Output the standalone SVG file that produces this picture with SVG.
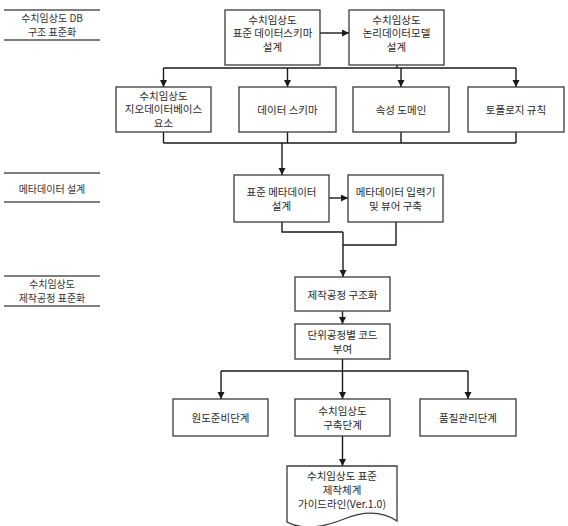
<svg xmlns="http://www.w3.org/2000/svg" width="568" height="526" viewBox="0 0 568 526">
<style>
.bg{fill:#ffffff}
.box{fill:#ffffff;stroke:#3a3a3a;stroke-width:1.3}
.t{font-family:"Noto Sans CJK KR","Noto Sans",sans-serif;font-size:10.5px;fill:#2a2a2a;text-anchor:middle;dominant-baseline:central}
.lt{font-family:"Noto Sans CJK KR","Noto Sans",sans-serif;font-size:10px;fill:#333;text-anchor:middle;dominant-baseline:central}
.rule{stroke:#555;stroke-width:1.6}
.c{fill:none;stroke:#1a1a1a;stroke-width:1.4}
.a{marker-end:url(#ah)}
</style>
<defs>
<marker id="ah" markerUnits="userSpaceOnUse" markerWidth="8" markerHeight="8" refX="7" refY="3.5" orient="auto">
<path d="M0,0 L7,3.5 L0,7 z" fill="#1a1a1a"/>
</marker>
</defs>
<rect class="bg" x="0" y="0" width="568" height="526"/>

<g id="label-db">
<line class="rule" x1="4" y1="10" x2="100" y2="10"/>
<line class="rule" x1="4" y1="40" x2="100" y2="40"/>
<text class="lt" x="52" y="17.5">수치임상도 DB</text>
<text class="lt" x="52" y="31">구조 표준화</text>
</g>
<g id="label-meta">
<line class="rule" x1="4" y1="173" x2="100" y2="173"/>
<line class="rule" x1="4" y1="202" x2="100" y2="202"/>
<text class="lt" x="52" y="188">메타데이터 설계</text>
</g>
<g id="label-proc">
<line class="rule" x1="4" y1="276" x2="100" y2="276"/>
<line class="rule" x1="4" y1="306" x2="100" y2="306"/>
<text class="lt" x="52" y="283.5">수치임상도</text>
<text class="lt" x="52" y="297">제작공정 표준화</text>
</g>

<g id="connectors">
<path class="c a" d="M320,33 H349"/>
<path class="c" d="M397,65 V68 M163.5,68 H516"/>
<path class="c a" d="M163.5,68 V87"/>
<path class="c a" d="M287.5,68 V87"/>
<path class="c a" d="M401,68 V87"/>
<path class="c a" d="M516,68 V87"/>
<path class="c" d="M163.5,132 V143 M287.5,132 V143 M401,132 V143 M516,132 V143 M163.5,143 H516"/>
<path class="c a" d="M282,143 V175"/>
<path class="c a" d="M329,198 H348"/>
<path class="c" d="M282,222 V232 H343 M396,222 V245 H343"/>
<path class="c a" d="M343,232 V277"/>
<path class="c a" d="M342.5,311 V324"/>
<path class="c" d="M342.5,359 V371 M221,371 H468"/>
<path class="c a" d="M221,371 V399"/>
<path class="c a" d="M342.5,371 V399"/>
<path class="c a" d="M468,371 V399"/>
<path class="c a" d="M342.5,436 V466"/>
</g>

<g id="n-schema">
<rect class="box" x="225" y="10" width="95" height="55"/>
<text class="t" x="272.5" y="19">수치임상도</text>
<text class="t" x="272.5" y="32.5">표준 데이터스키마</text>
<text class="t" x="272.5" y="46">설계</text>
</g>
<g id="n-logic">
<rect class="box" x="349" y="10" width="95" height="55"/>
<text class="t" x="396.5" y="19">수치임상도</text>
<text class="t" x="396.5" y="32.5">논리데이터모델</text>
<text class="t" x="396.5" y="46">설계</text>
</g>
<g id="n-geo">
<rect class="box" x="116" y="87" width="95" height="45"/>
<text class="t" x="163.5" y="95">수치임상도</text>
<text class="t" x="163.5" y="108.5">지오데이터베이스</text>
<text class="t" x="163.5" y="122">요소</text>
</g>
<g id="n-dschema">
<rect class="box" x="239" y="87" width="97" height="45"/>
<text class="t" x="287.5" y="109.5">데이터 스키마</text>
</g>
<g id="n-domain">
<rect class="box" x="353" y="87" width="96" height="45"/>
<text class="t" x="401" y="109.5">속성 도메인</text>
</g>
<g id="n-topo">
<rect class="box" x="468" y="87" width="96" height="45"/>
<text class="t" x="516" y="109.5">토폴로지 규칙</text>
</g>
<g id="n-meta">
<rect class="box" x="234" y="175" width="95" height="47"/>
<text class="t" x="281.5" y="191.5">표준 메타데이터</text>
<text class="t" x="281.5" y="205.5">설계</text>
</g>
<g id="n-viewer">
<rect class="box" x="348" y="175" width="95" height="47"/>
<text class="t" x="395.5" y="191.5">메타데이터 입력기</text>
<text class="t" x="395.5" y="205.5">및 뷰어 구축</text>
</g>
<g id="n-struct">
<rect class="box" x="295" y="277" width="95" height="34"/>
<text class="t" x="342.5" y="294">제작공정 구조화</text>
</g>
<g id="n-code">
<rect class="box" x="295" y="324" width="95" height="35"/>
<text class="t" x="342.5" y="334.5">단위공정별 코드</text>
<text class="t" x="342.5" y="348.5">부여</text>
</g>
<g id="n-prep">
<rect class="box" x="173" y="399" width="95" height="37"/>
<text class="t" x="220.5" y="417.5">원도준비단계</text>
</g>
<g id="n-build">
<rect class="box" x="295" y="399" width="95" height="37"/>
<text class="t" x="342.5" y="410.5">수치임상도</text>
<text class="t" x="342.5" y="424.5">구축단계</text>
</g>
<g id="n-qc">
<rect class="box" x="420" y="399" width="96" height="37"/>
<text class="t" x="468" y="417.5">품질관리단계</text>
</g>
<g id="n-guide">
<path class="box" d="M287,466 H397 V521 C382,511 364,511 344,519 C322,528 302,530 287,522 Z"/>
<text class="t" x="342" y="475">수치임상도 표준</text>
<text class="t" x="342" y="489">제작체계</text>
<text class="t" x="342" y="503">가이드라인(Ver.1.0)</text>
</g>
</svg>
